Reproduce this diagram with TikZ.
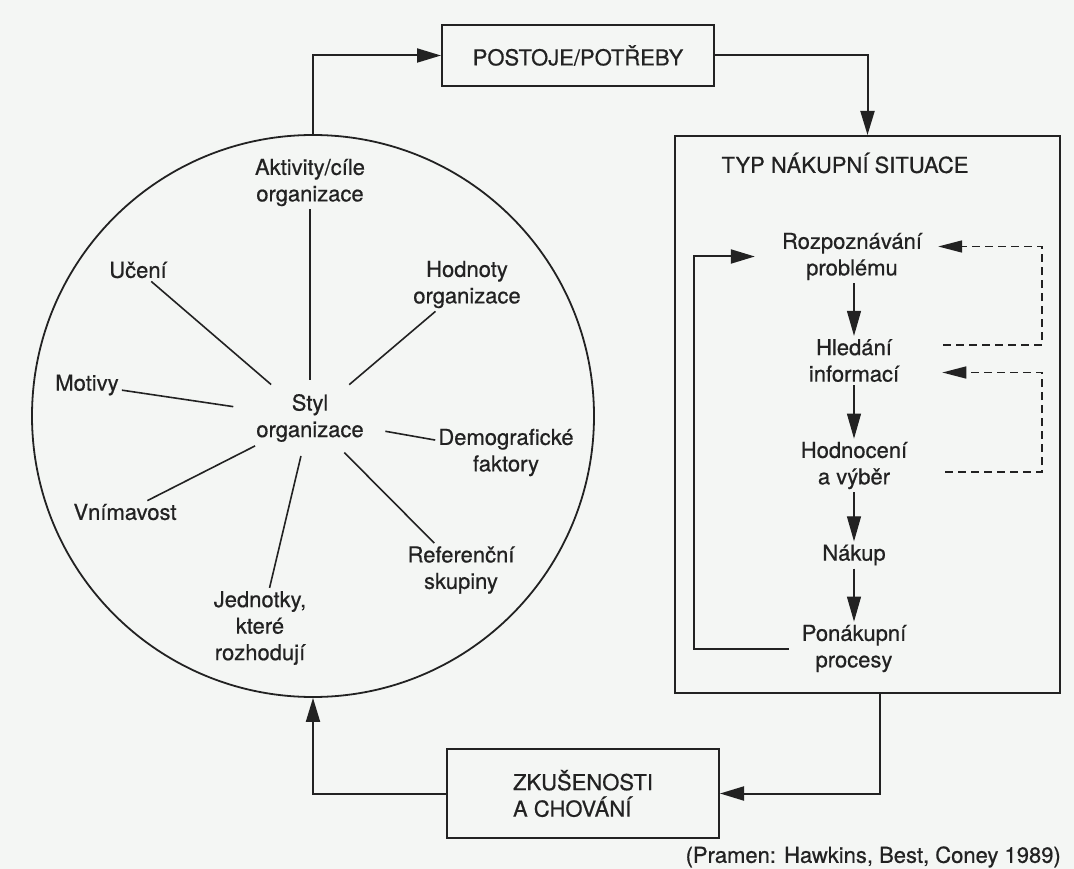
\documentclass[tikz,border=0pt]{standalone}
\usepackage{fontspec}
\setmainfont{TeX Gyre Heros}
\newfontfamily\inkfont{TeX Gyre Heros}[FakeBold=0.6]
\usepackage{tikz}
\usetikzlibrary{arrows.meta, shapes.geometric}
\definecolor{paperTint}{RGB}{244,246,244}
\definecolor{inkGray}{RGB}{34,34,34}
\newcommand{\diagfont}{\inkfont\fontsize{22}{26.5}\selectfont}
\tikzset{
  lbl/.style={align=center, inner sep=3pt, text=inkGray, font=\diagfont},
  box/.style={draw=inkGray, line width=2pt, inner sep=0pt},
  arr/.style={draw=inkGray, line width=2pt, -{Triangle[length=24pt,width=14pt]}},
  flow/.style={draw=inkGray, line width=1.2pt, -{Triangle[length=25pt,width=14pt]}},
  fb/.style={draw=inkGray, line width=1.6pt, dash pattern=on 8pt off 5pt, -{Triangle[length=24pt,width=12pt]}},
  spoke/.style={draw=inkGray, line width=1.6pt}
}

\begin{document}
\begin{tikzpicture}[x=1pt, y=-1pt]
  \fill[paperTint] (0,0) rectangle (1074,869);
  \useasboundingbox (0,0) rectangle (1074,869);

  % circle of influences
  \node[circle, draw=inkGray, line width=1.8pt, minimum size=562pt, inner sep=0pt] (ring) at (313,416) {};
  \node[lbl, ellipse] (styl) at (310,418) {Styl\\organizace};
  \node[lbl] (aktiv) at (310,182.5) {Aktivity/cíle\\organizace};
  \node[lbl] (ucen) at (138,270) {Učení};
  \node[lbl] (hodnoty) at (467,284.5) {Hodnoty\\organizace};
  \node[lbl] (motiv) at (87,385) {Motivy};
  \node[lbl] (demo) at (506,452.5) {Demografické\\faktory};
  \node[lbl] (vnim) at (125,512) {Vnímavost};
  \node[lbl] (ref) at (461,570) {Referenční\\skupiny};
  \node[lbl] (jedn) at (260,628) {Jednotky,\\které\\rozhodují};
  \foreach \n in {aktiv, ucen, hodnoty, motiv, demo, vnim, ref, jedn}
    \draw[spoke] (styl) -- (\n);

  % boxes
  \node[lbl, box, minimum width=272pt, minimum height=61pt] (postoje) at (578,55.5) {POSTOJE/POTŘEBY};
  \node[box, minimum width=385pt, minimum height=557pt] (typbox) at (867.5,414.5) {};
  \node[lbl] (typ) at (845,163) {TYP NÁKUPNÍ SITUACE};
  \node[lbl, box, align=left, minimum width=272pt, minimum height=89pt] (zku) at (583,793.5) {ZKUŠENOSTI\\A CHOVÁNÍ};

  % buying process
  \node[lbl] (rozp) at (852,256.5) {Rozpoznávání\\problému};
  \node[lbl] (hled) at (854,360.5) {Hledání\\informací};
  \node[lbl] (hodn) at (854,465.5) {Hodnocení\\a výběr};
  \node[lbl] (nakup) at (854,555) {Nákup};
  \node[lbl] (ponak) at (854,648.5) {Ponákupní\\procesy};
  \foreach \a/\b in {rozp/hled, hled/hodn, hodn/nakup, nakup/ponak}
    \draw[flow] (\a.south -| nakup) -- (\b.north -| nakup);

  % feedback
  \coordinate (loop) at (694,652);
  \coordinate (rail) at (1042,300);
  \coordinate (fbA) at (943,345);
  \coordinate (fbB) at (945,472);
  \draw[arr, shorten <=10pt, shorten >=24pt] (ponak.west) -- (ponak.west -| loop) |- (rozp.west);
  \draw[fb] (fbA) -- (fbA -| rail) |- ([xshift=13pt, yshift=10pt]rozp.east);
  \draw[fb] (fbB) -- (fbB -| rail) |- ([xshift=40pt, yshift=-12pt]hled.east);

  % main loop
  \draw[arr] (ring.north) |- (postoje.west);
  \draw[arr] (postoje.east) -| (typbox.north);
  \draw[arr] ([xshift=12.5pt]typbox.south) |- (zku.east);
  \draw[arr] (zku.west) -| (ring.south);

  \node[lbl, anchor=east] (pramen) at (1064,857) {(Pramen: Hawkins, Best, Coney 1989)};
\end{tikzpicture}
\end{document}
